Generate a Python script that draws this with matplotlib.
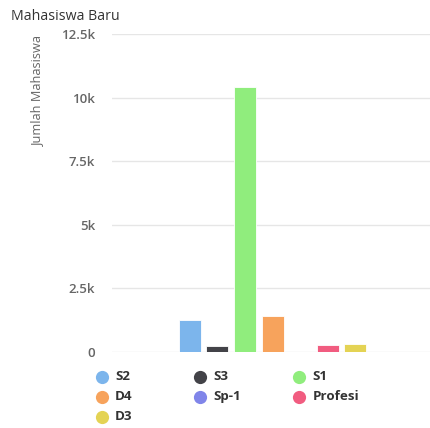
import matplotlib
matplotlib.use("Agg")
import matplotlib.pyplot as plt
from matplotlib.lines import Line2D

plt.rcParams['font.family'] = ['Open Sans', 'DejaVu Sans']

# data
programs = ['S2', 'S3', 'S1', 'D4', 'Sp-1', 'Profesi', 'D3']
students = [1240, 220, 10400, 1400, 0, 275, 320]
colors = ['#7cb5ec', '#434348', '#90ed7d', '#f7a35c', '#8085e9', '#f15c80', '#e4d354']
yticks = [0, 2500, 5000, 7500, 10000, 12500]
ytick_labels = ['0', '2.5k', '5k', '7.5k', '10k', '12.5k']

W, H = 431, 428
fig = plt.figure(figsize=(W / 100, H / 100), dpi=100)
ax = fig.add_axes([112 / W, (H - 351.7) / H, (431 - 112) / W, (351.7 - 34) / H])

x = list(range(len(programs)))
ax.bar(x, students, width=0.8, color=colors, edgecolor='white', linewidth=0.6, zorder=3)

ax.set_ylim(0, 12500)
ax.set_xlim(-2.82, 8.74)
ax.set_yticks(yticks)
ax.set_yticklabels(ytick_labels, color='#666666', fontsize=9.5, fontweight='semibold')
ax.set_xticks([])
ax.tick_params(axis='y', length=0, pad=12)
ax.grid(True, axis='y', color='#e6e6e6', linewidth=1, zorder=0)
for s in ax.spines.values():
    s.set_visible(False)

fig.text(11 / W, (H - 17) / H, 'Mahasiswa Baru', fontsize=10.2, color='#333333', va='center', ha='left')
fig.text(38 / W, (H - 90) / H, 'Jumlah Mahasiswa', fontsize=9.2, color='#666666',
         rotation=90, va='center', ha='center')

# legend, row-major, 3 columns
col_x = [101.7, 200, 299]
row_y = [377, 396.7, 416.7]
for i, (name, c) in enumerate(zip(programs, colors)):
    cx = col_x[i % 3]
    cy = row_y[i // 3]
    fig.add_artist(Line2D([cx / W], [(H - cy) / H], marker='o', markersize=9.5,
                          color=c, markeredgewidth=0, transform=fig.transFigure))
    fig.text((cx + 13.5) / W, (H - cy) / H, name, fontsize=9.6, fontweight='bold',
             color='#333333', va='center', ha='left')

fig.savefig('out.png', dpi=100, facecolor='white')
